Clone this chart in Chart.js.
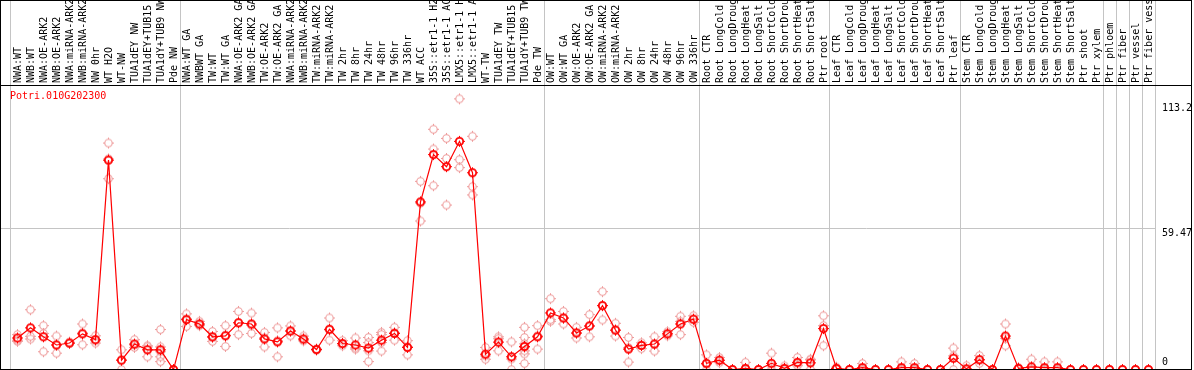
<!DOCTYPE html>
<html>
<head>
<meta charset="utf-8">
<script src="https://cdn.jsdelivr.net/npm/chart.js@4.4.1/dist/chart.umd.min.js"></script>
<style>
  html, body { margin: 0; padding: 0; background: #fff; overflow: hidden; }
  #chartAku { position: absolute; left: 0; top: 0; }
  .garis { position: absolute; pointer-events: none; }
  #bingkai { left: 0; top: 0; width: 1190px; height: 368px; border: 1px solid #000; }
  #kepala { left: 0; top: 85px; width: 1192px; height: 1px; background: #000; }
</style>
</head>
<body>
<canvas id="chartAku" width="1194" height="372"></canvas>
<div class="garis" id="bingkai"></div>
<div class="garis" id="kepala"></div>
<script>
let gene = 'Potri.010G202300';

let categories = [
  'NWA:WT', 'NWB:WT', 'NWA:OE-ARK2', 'NWB:OE-ARK2', 'NWA:miRNA-ARK2', 'NWB:miRNA-ARK2', 'NW 0hr', 'WT H2O', 'WT-NW',
  'TUA1dEY NW', 'TUA1dEY+TUB15 NW', 'TUA1dY+TUB9 NW', 'Pde NW',
  'NWA:WT GA', 'NWBWT GA', 'TW:WT', 'TW:WT GA', 'NWA:OE-ARK2 GA', 'NWB:OE-ARK2 GA', 'TW:OE-ARK2', 'TW:OE-ARK2 GA',
  'NWA:miRNA-ARK2', 'NWB:miRNA-ARK2', 'TW:miRNA-ARK2', 'TW:miRNA-ARK2', 'TW 2hr', 'TW 8hr', 'TW 24hr', 'TW 48hr',
  'TW 96hr', 'TW 336hr', 'WT ACC', '35S::etr1-1 H2O', '35S::etr1-1 ACC', 'LMX5::etr1-1 H2O', 'LMX5::etr1-1 ACC',
  'WT-TW', 'TUA1dEY TW', 'TUA1dEY+TUB15 TW', 'TUA1dY+TUB9 TW', 'Pde TW',
  'OW:WT', 'OW:WT GA', 'OW:OE-ARK2', 'OW:OE-ARK2 GA', 'OW:miRNA-ARK2', 'OW:miRNA-ARK2', 'OW 2hr', 'OW 8hr',
  'OW 24hr', 'OW 48hr', 'OW 96hr', 'OW 336hr',
  'Root CTR', 'Root LongCold', 'Root LongDrought', 'Root LongHeat', 'Root LongSalt', 'Root ShortCold',
  'Root ShortDrought', 'Root ShortHeat', 'Root ShortSalt', 'Ptr root',
  'Leaf CTR', 'Leaf LongCold', 'Leaf LongDrought', 'Leaf LongHeat', 'Leaf LongSalt', 'Leaf ShortCold',
  'Leaf ShortDrought', 'Leaf ShortHeat', 'Leaf ShortSalt', 'Ptr leaf',
  'Stem CTR', 'Stem LongCold', 'Stem LongDrought', 'Stem LongHeat', 'Stem LongSalt', 'Stem ShortCold',
  'Stem ShortDrought', 'Stem ShortHeat', 'Stem ShortSalt', 'Ptr shoot', 'Ptr xylem',
  'Ptr phloem', 'Ptr fiber', 'Ptr vessel', 'Ptr fiber vessel'
];

// jumlah kategori per kelompok (garis abu-abu di antaranya)
let groupSizes = [13, 28, 12, 10, 10, 11, 1, 1, 1, 1];

let means = [
  14.1, 18.3, 14.6, 11.2, 12.0, 15.8, 13.4, 87.8, 4.9, 11.6, 9.2, 9.2, 1.0,
  21.7, 19.9, 14.6, 15.0, 20.4, 19.9, 13.7, 12.5, 17.0, 13.7, 9.3, 17.7, 11.8, 11.2, 9.9, 13.2, 16.0, 10.2,
  70.5, 90.1, 85.1, 95.6, 82.6, 7.4, 12.4, 6.3, 10.6, 14.6,
  24.5, 22.4, 16.2, 19.1, 27.5, 17.4, 9.5, 11.0, 11.6, 15.8, 19.9, 21.9,
  3.6, 4.9, 1.0, 1.5, 1.0, 3.6, 1.5, 4.0, 3.8, 18.0,
  1.5, 1.0, 1.8, 1.0, 1.0, 1.8, 1.8, 1.0, 1.0, 5.7,
  1.3, 5.1, 1.0, 14.9, 1.5, 2.1, 1.8, 1.8, 1.0, 1.0, 1.0,
  1.0, 1.0, 1.0, 1.0
];

let replicates = [
  [15.5, 13.2, 12.7], [25.8, 14.8, 13.7], [19.2, 16.0, 8.4], [14.9, 11.2, 7.8], [12.4, 11.8, 11.9],
  [19.9, 16.2, 11.3], [15.0, 13.0, 12.0], [94.9, 88.3, 80.1], [9.2, 5.0, 1.0], [13.4, 11.2, 10.2],
  [10.9, 10.4, 6.3], [17.6, 10.4, 8.4, 6.3, 4.3], [1.0, 1.0, 1.0],
  [24.1, 22.1, 18.9], [21.0, 19.5, 19.2], [16.8, 14.3, 12.7], [19.2, 15.3, 10.6], [25.1, 20.5, 15.5],
  [24.4, 19.4, 16.0], [16.4, 14.2, 10.4], [18.3, 13.0, 6.3], [19.1, 17.0, 15.0], [14.9, 13.3, 12.9],
  [9.6, 9.2, 9.1], [22.4, 17.4, 13.2], [13.0, 11.6, 10.9], [14.1, 10.0, 9.5], [14.3, 12.2, 8.8, 4.3],
  [16.4, 15.5, 12.2, 8.7], [18.5, 16.3, 13.2], [13.0, 10.5, 7.1], [79.0, 70.0, 62.6], [100.6, 92.4, 77.2],
  [96.8, 88.5, 69.2], [113.2, 88.0, 84.7], [97.7, 76.8, 73.4], [10.2, 6.7, 5.3], [14.6, 13.8, 8.8],
  [12.5, 5.4, 1.0], [18.5, 14.3, 11.7, 10.2, 8.8, 7.5, 3.5], [19.2, 15.0, 9.5],
  [30.4, 21.7, 21.0], [25.1, 22.3, 19.9], [18.5, 16.0, 14.1], [23.8, 19.0, 14.6], [33.3, 27.6, 21.6],
  [20.2, 17.2, 14.9], [14.3, 10.1, 4.1], [12.1, 11.2, 9.7], [14.6, 11.5, 8.7], [16.7, 15.8, 15.0],
  [23.1, 21.0, 15.5], [23.3, 21.8, 20.6],
  [7.1, 3.1, 1.0], [6.0, 4.8, 3.9], [1.0, 1.0, 1.0], [4.0, 1.0, 1.0], [1.0, 1.0, 1.0],
  [7.8, 2.6, 1.0], [2.5, 1.2, 1.0], [6.0, 3.4, 2.6], [5.3, 5.0, 1.1], [23.3, 19.2, 10.9],
  [2.0, 1.5, 1.0], [1.0, 1.0, 1.0], [3.5, 1.0, 1.0], [1.0, 1.0, 1.0], [1.0, 1.0, 1.0],
  [4.2, 1.0, 1.0], [3.5, 1.0, 1.0], [1.0, 1.0, 1.0], [1.0, 1.0, 1.0], [9.9, 6.7, 1.0],
  [2.6, 1.0, 1.0], [6.8, 5.0, 3.6], [1.0, 1.0, 1.0], [19.9, 14.0, 10.9], [1.8, 1.5, 1.2],
  [5.3, 1.0, 1.0], [4.2, 1.0, 1.0], [4.2, 1.0, 1.0], [1.0, 1.0, 1.0], [1.0, 1.0, 1.0], [1.0, 1.0, 1.0],
  [1.0, 1.0, 1.0], [1.0, 1.0, 1.0], [1.0, 1.0, 1.0], [1.0, 1.0, 1.0]
];

let yTicks = [0, 59.47, 113.2];
let yMax = 118.94;

const monoFont = { family: "'DejaVu Sans Mono', 'Liberation Mono', monospace", size: 10 };

// batas kelompok dalam satuan indeks kategori
let boundaries = [-0.5];
groupSizes.forEach(function(n){
  boundaries.push(boundaries[boundaries.length - 1] + n);
});

// sumbu x: kolom 13px, kolom pertama mulai 10px dari tepi kiri area plot
const xMin = -0.5 - 10 / 13;
const xMax = categories.length - 0.5;

function tanpaPadding(s){
  s.paddingLeft = 0; s.paddingRight = 0; s.paddingTop = 0; s.paddingBottom = 0;
}

// label sumbu y digeser pakai baris kosong (0 di atas garis, yang lain di bawah)
function labelY(v){
  if (v === 0) return ['0', '', ''];
  if (v === yTicks[yTicks.length - 1]) return ['', '', String(v)];
  return ['', String(v)];
}

function bikinPenanda(warna, tebal){
  const c = document.createElement('canvas');
  c.width = 13; c.height = 13;
  const g = c.getContext('2d');
  g.strokeStyle = warna;
  g.lineWidth = tebal;
  g.beginPath();
  g.arc(6.5, 6.5, 3.7, 0, Math.PI * 2);
  g.stroke();
  g.lineWidth = 1;
  g.beginPath();
  g.moveTo(6.5, 1); g.lineTo(6.5, 3);
  g.moveTo(6.5, 10); g.lineTo(6.5, 12);
  g.moveTo(1, 6.5); g.lineTo(3, 6.5);
  g.moveTo(10, 6.5); g.lineTo(12, 6.5);
  g.stroke();
  return c;
}

let penandaUtama = bikinPenanda('#ff0000', 1.8);
let penandaUlangan = bikinPenanda('#ee9c9c', 1.1);

let titikUlangan = [];
replicates.forEach(function(arr, i){
  arr.forEach(function(v){ titikUlangan.push({ x: i, y: v }); });
});

let judulGen = {
  id: 'judulGen',
  afterDraw(chart){
    const ctx = chart.ctx;
    ctx.save();
    ctx.fillStyle = '#ff0000';
    ctx.font = "10px 'DejaVu Sans Mono', monospace";
    ctx.textBaseline = 'top';
    ctx.fillText(gene, chart.chartArea.left + 9, chart.chartArea.top + 6);
    ctx.restore();
  }
};

let chart = new Chart(document.getElementById('chartAku'), {
  type: 'line',
  data: {
    datasets: [{
      label: gene,
      data: means.map(function(v, i){ return { x: i, y: v }; }),
      borderColor: '#ff0000',
      borderWidth: 1.2,
      pointStyle: penandaUtama,
      tension: 0,
      order: 0,
      clip: false
    }, {
      type: 'scatter',
      label: 'replicates',
      data: titikUlangan,
      pointStyle: penandaUlangan,
      showLine: false,
      order: 1,
      clip: false
    }]
  },
  options: {
    responsive: false,
    animation: false,
    layout: { autoPadding: false, padding: { left: 1, right: 0, top: 0, bottom: 0 } },
    plugins: { legend: { display: false }, tooltip: { enabled: false } },
    scales: {
      x: {
        type: 'linear',
        position: 'top',
        weight: 1,
        min: xMin,
        max: xMax,
        afterBuildTicks: function(s){ s.ticks = categories.map(function(c, i){ return { value: i }; }); },
        afterFit: function(s){ s.height = 85; tanpaPadding(s); },
        grid: { display: false, drawTicks: false },
        border: { display: false },
        ticks: {
          autoSkip: false,
          minRotation: 90,
          maxRotation: 90,
          padding: 2,
          labelOffset: 12.5,
          color: '#000',
          font: monoFont,
          callback: function(v){ return categories[v]; }
        }
      },
      kelompok: {
        type: 'linear',
        position: 'top',
        weight: 0,
        min: xMin,
        max: xMax,
        afterBuildTicks: function(s){ s.ticks = boundaries.map(function(v){ return { value: v }; }); },
        afterFit: function(s){ s.height = 0; tanpaPadding(s); },
        grid: { color: '#c4c4c4', tickColor: '#c4c4c4', tickLength: 85, lineWidth: 1 },
        border: { display: false },
        ticks: { display: false }
      },
      y: {
        position: 'right',
        min: 0,
        max: yMax,
        afterBuildTicks: function(s){ s.ticks = yTicks.map(function(v){ return { value: v }; }); },
        afterFit: function(s){ s.width = 39; tanpaPadding(s); },
        grid: {
          drawTicks: false,
          color: function(c){ return c.tick && c.tick.value === 59.47 ? '#c4c4c4' : 'rgba(0,0,0,0)'; }
        },
        border: { display: false },
        ticks: {
          padding: 7,
          color: '#000',
          font: { family: monoFont.family, size: 10, lineHeight: 1 },
          callback: labelY
        }
      }
    }
  },
  plugins: [judulGen]
});
</script>
</body>
</html>
